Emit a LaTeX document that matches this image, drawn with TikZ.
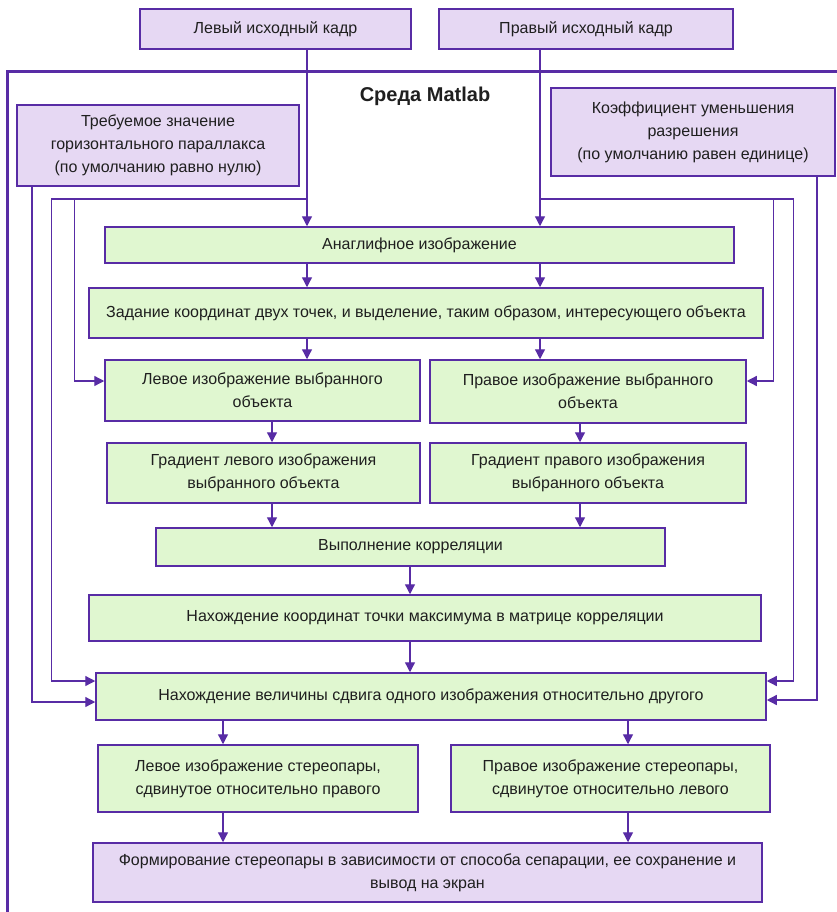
\documentclass[tikz,border=0pt]{standalone}
\usepackage{fontspec}
\setmainfont{Liberation Sans}
\usepackage{xcolor}
\usetikzlibrary{arrows.meta,positioning,calc}
\definecolor{lineviolet}{RGB}{88,44,165}
\definecolor{fillviolet}{RGB}{230,216,243}
\definecolor{fillgreen}{RGB}{224,247,208}

\begin{document}
\begin{tikzpicture}[
  x=1pt, y=-1pt,
  every node/.style={font=\fontsize{16}{23}\selectfont, text=black!88, align=center},
  gbox/.style={draw=lineviolet, line width=1.5pt, fill=fillgreen, inner sep=0pt},
  vbox/.style={draw=lineviolet, line width=1.5pt, fill=fillviolet, inner sep=0pt},
  arr/.style={-{Triangle[length=10pt,width=10pt]}, draw=lineviolet, line width=1.3pt},
  link/.style={draw=lineviolet, line width=1.3pt}
]
  \useasboundingbox (0,0) rectangle (836,912);
  \fill[white] (0,0) rectangle (836,912);

  % frame of the Matlab environment
  \draw[lineviolet, line width=3pt] (7,940) |- (860,72);
  \node[font=\fontsize{20}{22}\selectfont\bfseries] (env) at (425,96) {Среда Matlab};

  % inputs
  \node[vbox, minimum width=271pt, minimum height=40pt] (lsrc) at (275.5,29) {Левый исходный кадр};
  \node[vbox, minimum width=294pt, minimum height=40pt] (rsrc) at (586,29) {Правый исходный кадр};
  \node[vbox, minimum width=282pt, minimum height=81pt] (par) at (158,145.5)
    {Требуемое значение\\горизонтального параллакса\\(по умолчанию равно нулю)};
  \node[vbox, minimum width=284pt, minimum height=88pt] (coef) at (693,132)
    {Коэффициент уменьшения\\разрешения\\(по умолчанию равен единице)};

  % processing steps
  \node[gbox, minimum width=629pt, minimum height=36pt] (anaglyph) at (419.5,245) {Анаглифное изображение};
  \node[gbox, minimum width=674pt, minimum height=50pt] (select) at (426,313)
    {Задание координат двух точек, и выделение, таким образом, интересующего объекта};
  \node[gbox, minimum width=315pt, minimum height=61pt] (limg) at (262.5,390.5)
    {Левое изображение выбранного\\объекта};
  \node[gbox, minimum width=316pt, minimum height=63pt] (rimg) at (588,391.5)
    {Правое изображение выбранного\\объекта};
  \node[gbox, minimum width=313pt, minimum height=60pt] (lgrad) at (263.5,473)
    {Градиент левого изображения\\выбранного объекта};
  \node[gbox, minimum width=316pt, minimum height=60pt] (rgrad) at (588,473)
    {Градиент правого изображения\\выбранного объекта};
  \node[gbox, minimum width=509pt, minimum height=38pt] (corr) at (410.5,547) {Выполнение корреляции};
  \node[gbox, minimum width=672pt, minimum height=46pt] (maxc) at (425,618)
    {Нахождение координат точки максимума в матрице корреляции};
  \node[gbox, minimum width=670pt, minimum height=47pt] (shift) at (431,696.5)
    {Нахождение величины сдвига одного изображения относительно другого};
  \node[gbox, minimum width=320pt, minimum height=67pt] (lst) at (258,778.5)
    {Левое изображение стереопары,\\сдвинутое относительно правого};
  \node[gbox, minimum width=319pt, minimum height=67pt] (rst) at (610.5,778.5)
    {Правое изображение стереопары,\\сдвинутое относительно левого};
  \node[vbox, minimum width=669pt, minimum height=59pt] (out) at (427.5,872.5)
    {Формирование стереопары в зависимости от способа сепарации, ее сохранение и\\вывод на экран};

  % columns of the vertical links
  \coordinate (colA) at (307,0);
  \coordinate (colB) at (540,0);
  \coordinate (colC) at (272,0);
  \coordinate (colD) at (580,0);
  \coordinate (colE) at (410,0);
  \coordinate (colF) at (223,0);
  \coordinate (colG) at (628,0);
  \coordinate (lfork) at (307,199);
  \coordinate (rfork) at (540,199);

  \draw[arr] (lsrc.south -| colA) -- (anaglyph.north -| colA);
  \draw[arr] (rsrc.south -| colB) -- (anaglyph.north -| colB);
  \draw[arr] (anaglyph.south -| colA) -- (select.north -| colA);
  \draw[arr] (anaglyph.south -| colB) -- (select.north -| colB);
  \draw[arr] (select.south -| colA) -- (limg.north -| colA);
  \draw[arr] (select.south -| colB) -- (rimg.north -| colB);
  \draw[arr] (limg.south -| colC) -- (lgrad.north -| colC);
  \draw[arr] (rimg.south -| colD) -- (rgrad.north -| colD);
  \draw[arr] (lgrad.south -| colC) -- (corr.north -| colC);
  \draw[arr] (rgrad.south -| colD) -- (corr.north -| colD);
  \draw[arr] (corr.south -| colE) -- (maxc.north -| colE);
  \draw[arr] (maxc.south -| colE) -- (shift.north -| colE);
  \draw[arr] (shift.south -| colF) -- (lst.north -| colF);
  \draw[arr] (shift.south -| colG) -- (rst.north -| colG);
  \draw[arr] (lst.south -| colF) -- (out.north -| colF);
  \draw[arr] (rst.south -| colG) -- (out.north -| colG);

  % side feeds
  \draw[arr] (lfork) -| ([xshift=-30pt,yshift=9.5pt]limg.west) -- ([yshift=9.5pt]limg.west);
  \draw[arr] (lfork) -| ([xshift=-44pt,yshift=15.5pt]shift.west) -- ([yshift=15.5pt]shift.west);
  \draw[arr] ([xshift=-126pt]par.south) |- ([yshift=-5.5pt]shift.west);
  \draw[arr] (rfork) -| ([xshift=27pt,yshift=10.5pt]rimg.east) -- ([yshift=10.5pt]rimg.east);
  \draw[arr] (rfork) -| ([xshift=27pt,yshift=15.5pt]shift.east) -- ([yshift=15.5pt]shift.east);
  \draw[arr] ([xshift=124pt]coef.south) |- ([yshift=-3.5pt]shift.east);
\end{tikzpicture}
\end{document}
